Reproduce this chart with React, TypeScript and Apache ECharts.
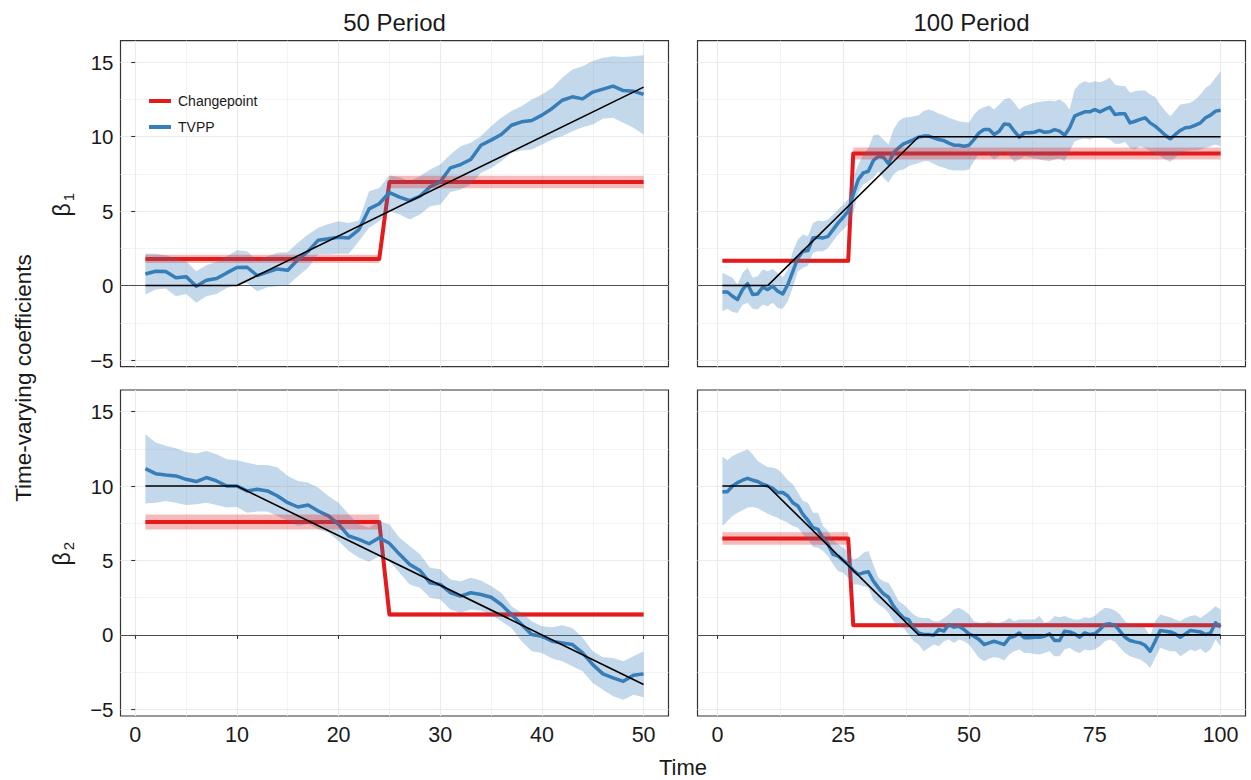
import React, { useEffect, useRef } from "react";
import * as echarts from "echarts";

// ---------- data ----------
const T50 = Array.from({ length: 50 }, (_, i) => i + 1);
const T100 = Array.from({ length: 100 }, (_, i) => i + 1);

const X_TICKS_50 = [0, 10, 20, 30, 40, 50];
const X_MINOR_50 = [5, 15, 25, 35, 45];
const X_TICKS_100 = [0, 25, 50, 75, 100];
const X_MINOR_100 = [12.5, 37.5, 62.5, 87.5];
const Y_TICKS = [-5, 0, 5, 10, 15];
const Y_MINOR = [-2.5, 2.5, 7.5, 12.5];

// TVPP estimates: beta1, 50 periods
const TVPP_50_B1 = [0.78, 0.96, 0.94, 0.52, 0.6, -0.04, 0.36, 0.47, 0.85, 1.21, 1.23, 0.67, 0.9, 1.12, 1.03, 1.75, 2.3, 3.05, 3.14, 3.25, 3.2, 3.76, 5.15, 5.5, 6.25, 5.94, 5.71, 6.0, 6.63, 6.97, 7.91, 8.13, 8.47, 9.43, 9.77, 10.15, 10.77, 11.0, 11.09, 11.45, 11.9, 12.45, 12.68, 12.54, 13.0, 13.2, 13.4, 13.1, 13.06, 12.84];
const TVPP_50_B1_HI = [2.15, 2.13, 2.04, 1.86, 1.64, 0.96, 1.37, 1.6, 1.97, 2.37, 2.3, 1.68, 1.97, 2.2, 2.24, 2.87, 3.43, 3.88, 4.14, 4.32, 4.2, 4.37, 6.34, 6.56, 7.4, 7.28, 7.0, 7.35, 7.8, 8.13, 8.8, 9.36, 9.59, 10.03, 10.7, 11.27, 11.72, 12.05, 12.5, 12.84, 13.28, 13.96, 14.52, 14.74, 15.08, 15.3, 15.41, 15.35, 15.41, 15.48];
const TVPP_50_B1_LO = [-0.6, -0.27, -0.2, -0.72, -0.56, -1.16, -0.72, -0.56, -0.16, 0.07, 0.18, -0.38, -0.11, -0.04, 0.0, 0.63, 1.19, 2.08, 2.08, 2.13, 2.13, 2.98, 3.88, 4.32, 5.0, 4.77, 4.44, 4.77, 5.33, 5.44, 6.29, 6.45, 6.79, 7.57, 7.9, 8.36, 8.92, 9.07, 9.14, 9.48, 9.81, 10.04, 10.37, 10.64, 10.82, 11.2, 11.27, 10.93, 10.6, 10.15];

// beta1, 100 periods
const TVPP_100_B1 = [-0.43, -0.43, -0.72, -0.94, -0.27, 0.13, -0.6, -0.56, -0.11, -0.27, -0.04, -0.38, -0.56, 0.07, 0.96, 1.86, 2.31, 2.35, 3.2, 3.25, 3.2, 3.31, 3.76, 4.21, 4.59, 5.0, 6.12, 7.12, 7.57, 7.68, 8.4, 8.69, 8.62, 8.18, 8.92, 9.25, 9.52, 9.65, 9.81, 9.97, 10.04, 10.04, 9.92, 9.81, 9.74, 9.57, 9.43, 9.43, 9.36, 9.43,
  9.81, 10.26, 10.48, 10.48, 10.15, 10.37, 10.86, 10.82, 10.37, 9.97, 10.26, 10.26, 10.3, 10.42, 10.3, 10.33, 10.48, 10.37, 10.1, 10.6, 11.38, 11.54, 11.67, 11.67, 11.83, 11.67, 11.83, 11.98, 11.49, 11.54, 11.54, 10.93, 11.04, 11.16, 11.27, 10.93, 10.71, 10.42, 10.1, 9.86, 10.15, 10.42, 10.6, 10.64, 10.78, 10.93, 11.27, 11.45, 11.72, 11.78];
const TVPP_100_B1_HI = [0.85, 0.69, 0.52, 0.07, 0.85, 1.19, 0.52, 0.63, 1.08, 0.96, 1.12, 0.85, 0.56, 1.08, 2.31, 3.09, 3.43, 3.31, 4.21, 4.37, 4.32, 4.44, 4.77, 5.11, 5.44, 5.78, 7.24, 8.13, 8.8, 9.25, 10.1, 10.15, 9.81, 9.48, 10.48, 11.04, 11.27, 11.31, 11.38, 11.45, 11.72, 11.83, 11.72, 11.54, 11.45, 11.27, 11.16, 11.04, 10.99, 10.93,
  11.49, 11.83, 11.98, 12.1, 11.83, 12.16, 12.5, 12.61, 12.28, 11.83, 12.05, 12.16, 12.28, 12.34, 12.39, 12.43, 12.39, 12.5, 12.28, 11.83, 13.17, 13.55, 13.73, 13.62, 13.73, 13.66, 13.78, 13.96, 13.51, 13.4, 13.4, 12.95, 13.06, 13.1, 13.1, 12.84, 12.66, 12.16, 11.72, 11.38, 11.76, 12.16, 12.21, 12.28, 12.5, 12.84, 13.28, 13.51, 13.96, 14.4];
const TVPP_100_B1_LO = [-1.72, -1.55, -1.77, -1.84, -1.28, -1.16, -1.55, -1.61, -1.28, -1.39, -1.16, -1.5, -1.55, -1.05, -0.11, 0.96, 1.19, 1.34, 2.2, 2.31, 2.31, 2.53, 2.98, 3.43, 3.76, 4.1, 4.88, 6.23, 6.79, 7.01, 7.24, 7.68, 7.24, 6.9, 7.46, 7.73, 7.8, 8.02, 8.13, 8.24, 8.36, 8.36, 8.18, 8.02, 7.91, 7.8, 7.73, 7.73, 7.73, 7.8,
  8.36, 8.85, 8.92, 8.76, 8.47, 8.69, 9.03, 8.69, 8.31, 8.47, 8.69, 8.62, 8.54, 8.47, 8.4, 8.36, 8.47, 8.54, 8.36, 9.03, 9.7, 9.81, 9.88, 9.81, 9.92, 9.92, 9.92, 9.81, 9.52, 9.52, 9.65, 9.25, 9.14, 9.36, 9.25, 9.03, 8.85, 8.69, 8.47, 8.31, 8.58, 8.92, 9.03, 9.07, 9.07, 9.14, 9.25, 9.36, 9.48, 9.36];

// beta2, 50 periods
const TVPP_50_B2 = [11.17, 10.83, 10.74, 10.68, 10.45, 10.3, 10.57, 10.34, 10.0, 10.0, 9.67, 9.78, 9.67, 9.33, 8.88, 8.59, 8.73, 8.32, 7.99, 7.42, 6.64, 6.42, 6.12, 6.53, 6.15, 5.41, 4.73, 4.33, 3.5, 3.39, 2.83, 2.6, 2.83, 2.71, 2.53, 2.04, 1.37, 0.7, 0.02, -0.09, -0.43, -0.54, -0.65, -1.21, -2.0, -2.62, -2.89, -3.12, -2.71, -2.62];
const TVPP_50_B2_HI = [13.48, 12.92, 12.7, 12.54, 12.29, 12.18, 12.36, 12.14, 11.8, 11.73, 11.57, 11.42, 11.42, 11.24, 10.68, 10.34, 10.23, 9.89, 9.33, 8.88, 8.1, 7.42, 7.2, 7.65, 7.42, 6.53, 5.97, 5.41, 4.51, 4.4, 3.72, 3.61, 3.84, 3.66, 3.28, 2.83, 1.93, 1.48, 0.92, 0.58, 0.52, 0.65, 0.47, -0.2, -1.1, -1.5, -1.55, -1.77, -1.44, -1.1];
const TVPP_50_B2_LO = [8.82, 8.88, 9.0, 8.88, 8.73, 8.77, 8.88, 8.73, 8.55, 8.59, 8.21, 8.28, 8.28, 7.99, 7.65, 7.31, 7.47, 7.09, 6.86, 6.3, 5.63, 5.18, 4.91, 5.29, 4.96, 4.17, 3.39, 3.16, 2.49, 2.38, 1.7, 1.48, 1.7, 1.64, 1.37, 0.92, 0.47, -0.43, -1.1, -1.21, -1.59, -1.77, -2.11, -2.45, -3.23, -3.68, -4.13, -4.35, -4.02, -4.19];

// beta2, 100 periods
const TVPP_100_B2 = [9.62, 9.62, 10.0, 10.23, 10.39, 10.52, 10.39, 10.3, 10.12, 10.0, 9.85, 9.56, 9.56, 9.33, 8.88, 8.66, 8.1, 7.69, 7.2, 7.09, 6.48, 6.08, 5.41, 5.29, 5.0, 4.73, 4.33, 4.06, 4.17, 4.24, 3.61, 3.16, 2.76, 2.53, 1.93, 1.48, 1.14, 1.03, 0.47, 0.13, 0.02, 0.02, -0.02, 0.36, 0.25, 0.7, 0.52, 0.58, 0.36, 0.07,
  -0.09, -0.31, -0.65, -0.54, -0.43, -0.54, -0.65, -0.2, -0.09, 0.13, -0.2, -0.2, -0.16, -0.16, -0.09, 0.07, -0.38, -0.38, 0.25, 0.2, 0.07, -0.16, 0.13, 0.02, 0.07, 0.36, 0.7, 0.74, 0.65, 0.25, -0.16, -0.38, -0.47, -0.54, -0.7, -1.1, -0.43, 0.29, 0.25, 0.2, 0.07, -0.16, 0.07, 0.29, 0.25, 0.2, 0.02, 0.13, 0.81, 0.52];
const TVPP_100_B2_HI = [11.96, 11.73, 12.02, 12.18, 12.32, 12.47, 12.14, 11.69, 11.46, 11.28, 11.24, 11.13, 10.79, 10.39, 10.12, 9.56, 9.0, 8.88, 8.21, 8.21, 7.31, 6.98, 6.35, 6.08, 5.85, 5.63, 5.07, 5.18, 5.52, 5.63, 4.73, 3.84, 3.61, 3.5, 2.94, 2.27, 2.04, 1.7, 1.37, 1.19, 1.14, 1.14, 0.92, 0.92, 1.14, 1.37, 1.7, 1.82, 1.64, 1.37,
  0.92, 0.81, 0.81, 0.92, 0.81, 0.81, 0.92, 1.14, 0.92, 1.03, 1.03, 1.03, 1.03, 1.26, 0.81, 0.92, 1.26, 1.19, 1.26, 1.14, 1.03, 1.03, 1.19, 1.14, 1.26, 1.59, 1.82, 1.77, 1.64, 1.37, 0.92, 0.7, 0.65, 0.58, 0.47, -0.09, 0.92, 1.37, 1.26, 1.19, 1.03, 0.92, 1.14, 1.26, 1.32, 1.14, 1.37, 1.64, 1.93, 1.7];
const TVPP_100_B2_LO = [7.31, 7.65, 7.99, 8.21, 8.37, 8.55, 8.59, 8.5, 8.32, 8.14, 7.99, 7.87, 7.69, 7.54, 7.31, 7.2, 6.75, 6.42, 5.9, 5.85, 5.63, 5.29, 4.73, 4.28, 4.17, 3.84, 3.39, 3.39, 3.27, 3.16, 2.38, 2.04, 1.82, 1.48, 0.92, 0.58, 0.47, 0.02, -0.43, -0.65, -1.1, -0.87, -0.65, -0.76, -0.43, -0.31, -0.54, -0.31, -0.43, -0.65,
  -1.1, -1.55, -1.77, -1.59, -1.5, -1.55, -1.73, -1.32, -1.1, -0.99, -1.21, -1.21, -1.28, -1.32, -1.21, -1.1, -1.44, -1.44, -0.99, -0.87, -1.1, -1.21, -0.99, -1.05, -0.99, -0.76, -0.43, -0.31, -0.47, -0.87, -1.21, -1.44, -1.55, -1.66, -1.88, -2.22, -1.55, -0.87, -0.99, -1.1, -1.1, -1.44, -1.21, -0.99, -1.1, -0.94, -1.21, -0.99, -0.31, -0.76];

// Changepoint model: change time, levels before/after, half-width of band
const CP_50_B1_TIME = 25;
const CP_50_B1_LEVELS = [1.79, 6.95];
const CP_50_B1_HALF = [0.28, 0.42];
const CP_100_B1_TIME = 27;
const CP_100_B1_LEVELS = [1.66, 8.87];
const CP_100_B1_HALF = [0.12, 0.4];
const CP_50_B2_TIME = 25;
const CP_50_B2_LEVELS = [7.58, 1.37];
const CP_50_B2_HALF = [0.5, 0.15];
const CP_100_B2_TIME = 27;
const CP_100_B2_LEVELS = [6.48, 0.65];
const CP_100_B2_HALF = [0.42, 0.12];

// True coefficient paths (breakpoints)
const TRUE_50_B1_T = [1, 10, 50];
const TRUE_50_B1_V = [0, 0, 13.33];
const TRUE_100_B1_T = [1, 10, 40, 100];
const TRUE_100_B1_V = [0, 0, 10, 10];
const TRUE_50_B2_T = [1, 10, 50];
const TRUE_50_B2_V = [10, 10, -3.33];
const TRUE_100_B2_T = [1, 10, 40, 100];
const TRUE_100_B2_V = [10, 10, 0, 0];

// ---------- styling / layout ----------
const RED = "#E41A1C";
const BLUE = "#377EB8";
const RED_FILL = "rgba(228,26,28,0.3)";
const BLUE_FILL = "rgba(55,126,184,0.3)";
const FONT = "'Liberation Sans', Arial, Helvetica, sans-serif";
const GRID_LEFTS = [120.5, 697.5, 120.5, 697.5];
const GRID_TOPS = [40.7, 40.7, 390, 390];
const GRID_W = 548;
const GRID_H = 326;
const Y_RANGE = [-5.45, 16.45];
const X_RANGE_50 = [-1.45, 52.45];
const X_RANGE_100 = [-3.95, 104.95];

const fmtNum = (v: number) => (v < 0 ? "\u2212" + Math.abs(v) : String(v));

function ribbonSeries(name: string, k: number, t: number[], lo: number[], hi: number[], fill: string, z: number) {
  return {
    type: "custom",
    name,
    xAxisIndex: 2 * k,
    yAxisIndex: 2 * k,
    z,
    silent: true,
    data: t.map((x, i) => [x, lo[i], hi[i]]),
    encode: { x: 0, y: [1, 2] },
    renderItem: (params: any, api: any) => {
      if (params.dataIndex !== 0) return null;
      const pts: number[][] = [];
      for (let i = 0; i < t.length; i++) pts.push(api.coord([t[i], hi[i]]));
      for (let i = t.length - 1; i >= 0; i--) pts.push(api.coord([t[i], lo[i]]));
      return { type: "polygon", shape: { points: pts }, style: { fill, stroke: "none" } };
    },
  };
}

function lineSeries(name: string, k: number, data: number[][], color: string, width: number, z: number, extra: any = {}) {
  return {
    type: "line",
    name,
    xAxisIndex: 2 * k,
    yAxisIndex: 2 * k,
    data,
    z,
    silent: true,
    symbol: "none",
    showSymbol: false,
    lineStyle: { color, width, join: "round", cap: "butt" },
    itemStyle: { color },
    ...extra,
  };
}

function panelSeries(k: number, t: number[], mean: number[], lo: number[], hi: number[], cpTime: number, cpLevels: number[], cpHalf: number[], trueT: number[], trueV: number[]) {
  const n = t[t.length - 1];
  const cpLine = [[1, cpLevels[0]], [cpTime - 1, cpLevels[0]], [cpTime, cpLevels[1]], [n, cpLevels[1]]];
  const seg1T = [1, cpTime - 1];
  const seg2T = [cpTime, n];
  return [
    lineSeries("Changepoint", k, cpLine, RED, 4, 3, {
      markLine: {
        silent: true,
        symbol: "none",
        label: { show: false },
        lineStyle: { color: "#4D4D4D", width: 1.2, type: "solid" },
        data: [{ yAxis: 0 }],
        z: 1,
      },
    }),
    lineSeries("TVPP", k, t.map((x, i) => [x, mean[i]]), BLUE, 3.5, 4),
    ribbonSeries("TVPP band", k, t, lo, hi, BLUE_FILL, 5),
    ribbonSeries("Changepoint band 1", k, seg1T, seg1T.map(() => cpLevels[0] - cpHalf[0]), seg1T.map(() => cpLevels[0] + cpHalf[0]), RED_FILL, 6),
    ribbonSeries("Changepoint band 2", k, seg2T, seg2T.map(() => cpLevels[1] - cpHalf[1]), seg2T.map(() => cpLevels[1] + cpHalf[1]), RED_FILL, 6),
    lineSeries("True", k, trueT.map((x, i) => [x, trueV[i]]), "#000000", 1.6, 7),
  ];
}

function buildOption() {
  const grids: any[] = [];
  const xAxes: any[] = [];
  const yAxes: any[] = [];
  for (let k = 0; k < 4; k++) {
    const isLeft = k % 2 === 0;
    const isBottom = k >= 2;
    const xr = isLeft ? X_RANGE_50 : X_RANGE_100;
    const xt = isLeft ? X_TICKS_50 : X_TICKS_100;
    const xm = isLeft ? X_MINOR_50 : X_MINOR_100;
    grids.push({
      left: GRID_LEFTS[k],
      top: GRID_TOPS[k],
      width: GRID_W,
      height: GRID_H,
      show: true,
      borderColor: "#333333",
      borderWidth: 1.2,
      backgroundColor: "#ffffff",
      containLabel: false,
    });
    xAxes.push({
      type: "value",
      gridIndex: k,
      min: xr[0],
      max: xr[1],
      position: "bottom",
      axisLine: { show: false },
      axisTick: { show: isBottom, customValues: xt, length: 4, lineStyle: { color: "#333333", width: 1.1 } },
      axisLabel: { show: isBottom, customValues: xt, fontSize: 21.5, color: "#1a1a1a", margin: 8, fontFamily: FONT },
      splitLine: { show: true, lineStyle: { color: "#EBEBEB", width: 1.1 } },
    });
    xAxes.push({
      type: "value",
      gridIndex: k,
      min: xr[0],
      max: xr[1],
      position: "top",
      axisLine: { show: false },
      axisTick: { show: false, customValues: xm },
      axisLabel: { show: false },
      splitLine: { show: true, lineStyle: { color: "#F0F0F0", width: 0.8 } },
    });
    yAxes.push({
      type: "value",
      gridIndex: k,
      min: Y_RANGE[0],
      max: Y_RANGE[1],
      position: "left",
      axisLine: { show: false },
      axisTick: { show: isLeft, customValues: Y_TICKS, length: 4, lineStyle: { color: "#333333", width: 1.1 } },
      axisLabel: { show: isLeft, customValues: Y_TICKS, fontSize: 20.5, color: "#1a1a1a", margin: 7, fontFamily: FONT, formatter: fmtNum },
      splitLine: { show: true, lineStyle: { color: "#EBEBEB", width: 1.1 } },
    });
    yAxes.push({
      type: "value",
      gridIndex: k,
      min: Y_RANGE[0],
      max: Y_RANGE[1],
      position: "right",
      axisLine: { show: false },
      axisTick: { show: false, customValues: Y_MINOR },
      axisLabel: { show: false },
      splitLine: { show: true, lineStyle: { color: "#F0F0F0", width: 0.8 } },
    });
  }

  const series = [
    ...panelSeries(0, T50, TVPP_50_B1, TVPP_50_B1_LO, TVPP_50_B1_HI, CP_50_B1_TIME, CP_50_B1_LEVELS, CP_50_B1_HALF, TRUE_50_B1_T, TRUE_50_B1_V),
    ...panelSeries(1, T100, TVPP_100_B1, TVPP_100_B1_LO, TVPP_100_B1_HI, CP_100_B1_TIME, CP_100_B1_LEVELS, CP_100_B1_HALF, TRUE_100_B1_T, TRUE_100_B1_V),
    ...panelSeries(2, T50, TVPP_50_B2, TVPP_50_B2_LO, TVPP_50_B2_HI, CP_50_B2_TIME, CP_50_B2_LEVELS, CP_50_B2_HALF, TRUE_50_B2_T, TRUE_50_B2_V),
    ...panelSeries(3, T100, TVPP_100_B2, TVPP_100_B2_LO, TVPP_100_B2_HI, CP_100_B2_TIME, CP_100_B2_LEVELS, CP_100_B2_HALF, TRUE_100_B2_T, TRUE_100_B2_V),
  ];

  const textStyleBase = { fill: "#1a1a1a", fontFamily: FONT };
  const betaLabel = (cx: number, cy: number, sub: string) => ({
    type: "group",
    x: cx,
    y: cy,
    rotation: Math.PI / 2,
    children: [
      { type: "text", x: -4, y: 0, style: { ...textStyleBase, text: "\u03B2", fontSize: 23, textAlign: "center", textVerticalAlign: "middle" } },
      { type: "text", x: 9, y: 6, style: { ...textStyleBase, text: sub, fontSize: 15, textAlign: "center", textVerticalAlign: "middle" } },
    ],
  });

  return {
    animation: false,
    backgroundColor: "#ffffff",
    textStyle: { fontFamily: FONT },
    grid: grids,
    xAxis: xAxes,
    yAxis: yAxes,
    legend: {
      show: true,
      orient: "vertical",
      left: 144,
      top: 89,
      itemWidth: 22,
      itemHeight: 4,
      itemGap: 12,
      icon: "rect",
      selectedMode: false,
      textStyle: { fontSize: 14, color: "#1a1a1a", fontFamily: FONT, padding: [0, 0, 0, 2] },
      data: [
        { name: "Changepoint", itemStyle: { color: RED } },
        { name: "TVPP", itemStyle: { color: BLUE } },
      ],
    },
    graphic: [
      { type: "text", x: 394.5, y: 22, style: { ...textStyleBase, text: "50 Period", fontSize: 24, textAlign: "center", textVerticalAlign: "middle" } },
      { type: "text", x: 971.5, y: 22, style: { ...textStyleBase, text: "100 Period", fontSize: 24, textAlign: "center", textVerticalAlign: "middle" } },
      { type: "text", x: 683, y: 767, style: { ...textStyleBase, text: "Time", fontSize: 22, textAlign: "center", textVerticalAlign: "middle" } },
      { type: "text", x: 23, y: 378, rotation: Math.PI / 2, style: { ...textStyleBase, text: "Time-varying coefficients", fontSize: 22.5, textAlign: "center", textVerticalAlign: "middle" } },
      betaLabel(62, 206, "1"),
      betaLabel(62, 555, "2"),
    ],
    series,
  };
}

export default function App() {
  const ref = useRef<HTMLDivElement | null>(null);
  useEffect(() => {
    if (!ref.current) return;
    const chart = echarts.init(ref.current, undefined, { renderer: "svg" });
    chart.setOption(buildOption() as any);
    return () => chart.dispose();
  }, []);
  return (
    <div
      ref={ref}
      style={{ position: "absolute", left: 0, top: 0, width: 1251, height: 780, background: "#ffffff" }}
    />
  );
}
